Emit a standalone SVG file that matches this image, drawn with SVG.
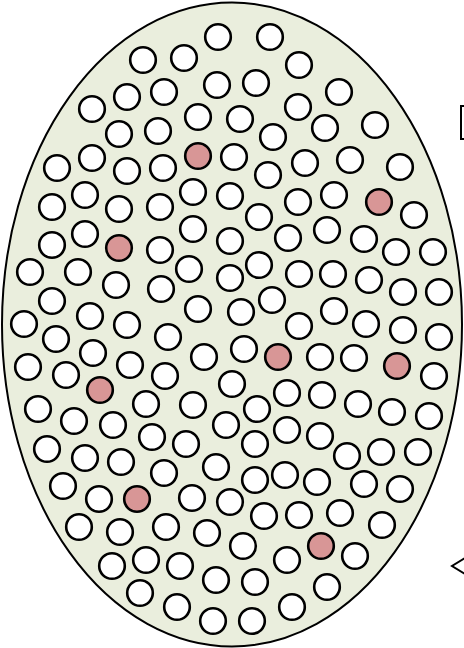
<svg xmlns="http://www.w3.org/2000/svg" width="464" height="648" viewBox="0 0 464 648">
<style>
.c{fill:#ffffff;stroke:#000;stroke-width:2.6}
.p{fill:#d89696;stroke:#000;stroke-width:2.6}
.shell{fill:#eaeedd;stroke:#000;stroke-width:2}
.edge{fill:#fff;stroke:#000;stroke-width:2}
</style>
<rect width="464" height="648" fill="#fff"/>
<g id="cell">
<ellipse class="shell" cx="232" cy="324.5" rx="230" ry="322"/>
</g>
<g id="particles">
<circle class="c" cx="218" cy="37" r="12.8"/>
<circle class="c" cx="270" cy="37" r="12.8"/>
<circle class="c" cx="143" cy="60" r="12.8"/>
<circle class="c" cx="184" cy="58" r="12.8"/>
<circle class="c" cx="299" cy="65" r="12.8"/>
<circle class="c" cx="127" cy="97" r="12.8"/>
<circle class="c" cx="164" cy="92" r="12.8"/>
<circle class="c" cx="217" cy="85" r="12.8"/>
<circle class="c" cx="256" cy="83" r="12.8"/>
<circle class="c" cx="339" cy="92" r="12.8"/>
<circle class="c" cx="92" cy="109" r="12.8"/>
<circle class="c" cx="198" cy="117" r="12.8"/>
<circle class="c" cx="240" cy="119" r="12.8"/>
<circle class="c" cx="298" cy="107" r="12.8"/>
<circle class="c" cx="375" cy="125" r="12.8"/>
<circle class="c" cx="325" cy="128" r="12.8"/>
<circle class="c" cx="119" cy="134" r="12.8"/>
<circle class="c" cx="158" cy="131" r="12.8"/>
<circle class="c" cx="273" cy="137" r="12.8"/>
<circle class="c" cx="57" cy="168" r="12.8"/>
<circle class="c" cx="92" cy="158" r="12.8"/>
<circle class="c" cx="127" cy="171" r="12.8"/>
<circle class="c" cx="163" cy="168" r="12.8"/>
<circle class="p" cx="198" cy="156" r="12.8"/>
<circle class="c" cx="234" cy="157" r="12.8"/>
<circle class="c" cx="268" cy="175" r="12.8"/>
<circle class="c" cx="305" cy="163" r="12.8"/>
<circle class="c" cx="350" cy="160" r="12.8"/>
<circle class="c" cx="400" cy="167" r="12.8"/>
<circle class="c" cx="52" cy="207" r="12.8"/>
<circle class="c" cx="85" cy="195" r="12.8"/>
<circle class="c" cx="119" cy="209" r="12.8"/>
<circle class="c" cx="160" cy="207" r="12.8"/>
<circle class="c" cx="193" cy="192" r="12.8"/>
<circle class="c" cx="230" cy="196" r="12.8"/>
<circle class="c" cx="298" cy="202" r="12.8"/>
<circle class="c" cx="334" cy="195" r="12.8"/>
<circle class="p" cx="379" cy="202" r="12.8"/>
<circle class="c" cx="414" cy="215" r="12.8"/>
<circle class="c" cx="259" cy="217" r="12.8"/>
<circle class="c" cx="52" cy="245" r="12.8"/>
<circle class="c" cx="85" cy="234" r="12.8"/>
<circle class="p" cx="119" cy="248" r="12.8"/>
<circle class="c" cx="160" cy="250" r="12.8"/>
<circle class="c" cx="193" cy="229" r="12.8"/>
<circle class="c" cx="230" cy="241" r="12.8"/>
<circle class="c" cx="288" cy="238" r="12.8"/>
<circle class="c" cx="327" cy="230" r="12.8"/>
<circle class="c" cx="364" cy="239" r="12.8"/>
<circle class="c" cx="396" cy="252" r="12.8"/>
<circle class="c" cx="433" cy="252" r="12.8"/>
<circle class="c" cx="259" cy="265" r="12.8"/>
<circle class="c" cx="30" cy="272" r="12.8"/>
<circle class="c" cx="78" cy="272" r="12.8"/>
<circle class="c" cx="116" cy="285" r="12.8"/>
<circle class="c" cx="161" cy="289" r="12.8"/>
<circle class="c" cx="189" cy="269" r="12.8"/>
<circle class="c" cx="230" cy="278" r="12.8"/>
<circle class="c" cx="299" cy="274" r="12.8"/>
<circle class="c" cx="333" cy="274" r="12.8"/>
<circle class="c" cx="369" cy="280" r="12.8"/>
<circle class="c" cx="403" cy="292" r="12.8"/>
<circle class="c" cx="439" cy="292" r="12.8"/>
<circle class="c" cx="52" cy="301" r="12.8"/>
<circle class="c" cx="90" cy="316" r="12.8"/>
<circle class="c" cx="127" cy="325" r="12.8"/>
<circle class="c" cx="24" cy="324" r="12.8"/>
<circle class="c" cx="198" cy="309" r="12.8"/>
<circle class="c" cx="272" cy="300" r="12.8"/>
<circle class="c" cx="241" cy="312" r="12.8"/>
<circle class="c" cx="334" cy="311" r="12.8"/>
<circle class="c" cx="299" cy="326" r="12.8"/>
<circle class="c" cx="366" cy="324" r="12.8"/>
<circle class="c" cx="403" cy="330" r="12.8"/>
<circle class="c" cx="439" cy="337" r="12.8"/>
<circle class="c" cx="56" cy="339" r="12.8"/>
<circle class="c" cx="168" cy="337" r="12.8"/>
<circle class="c" cx="93" cy="353" r="12.8"/>
<circle class="c" cx="204" cy="357" r="12.8"/>
<circle class="c" cx="244" cy="349" r="12.8"/>
<circle class="p" cx="278" cy="357" r="12.8"/>
<circle class="c" cx="320" cy="357" r="12.8"/>
<circle class="c" cx="354" cy="358" r="12.8"/>
<circle class="p" cx="397" cy="366" r="12.8"/>
<circle class="c" cx="434" cy="376" r="12.8"/>
<circle class="c" cx="28" cy="367" r="12.8"/>
<circle class="c" cx="66" cy="375" r="12.8"/>
<circle class="c" cx="130" cy="365" r="12.8"/>
<circle class="p" cx="100" cy="390" r="12.8"/>
<circle class="c" cx="165" cy="376" r="12.8"/>
<circle class="c" cx="232" cy="384" r="12.8"/>
<circle class="c" cx="287" cy="393" r="12.8"/>
<circle class="c" cx="322" cy="395" r="12.8"/>
<circle class="c" cx="358" cy="404" r="12.8"/>
<circle class="c" cx="392" cy="412" r="12.8"/>
<circle class="c" cx="429" cy="416" r="12.8"/>
<circle class="c" cx="257" cy="409" r="12.8"/>
<circle class="c" cx="38" cy="409" r="12.8"/>
<circle class="c" cx="74" cy="421" r="12.8"/>
<circle class="c" cx="113" cy="425" r="12.8"/>
<circle class="c" cx="146" cy="404" r="12.8"/>
<circle class="c" cx="193" cy="405" r="12.8"/>
<circle class="c" cx="226" cy="425" r="12.8"/>
<circle class="c" cx="287" cy="430" r="12.8"/>
<circle class="c" cx="320" cy="436" r="12.8"/>
<circle class="c" cx="47" cy="449" r="12.8"/>
<circle class="c" cx="85" cy="458" r="12.8"/>
<circle class="c" cx="121" cy="462" r="12.8"/>
<circle class="c" cx="152" cy="437" r="12.8"/>
<circle class="c" cx="186" cy="444" r="12.8"/>
<circle class="c" cx="216" cy="467" r="12.8"/>
<circle class="c" cx="255" cy="444" r="12.8"/>
<circle class="c" cx="347" cy="456" r="12.8"/>
<circle class="c" cx="381" cy="452" r="12.8"/>
<circle class="c" cx="418" cy="452" r="12.8"/>
<circle class="c" cx="63" cy="486" r="12.8"/>
<circle class="c" cx="164" cy="473" r="12.8"/>
<circle class="c" cx="255" cy="480" r="12.8"/>
<circle class="c" cx="285" cy="475" r="12.8"/>
<circle class="c" cx="317" cy="482" r="12.8"/>
<circle class="c" cx="364" cy="484" r="12.8"/>
<circle class="c" cx="400" cy="489" r="12.8"/>
<circle class="c" cx="99" cy="499" r="12.8"/>
<circle class="p" cx="137" cy="499" r="12.8"/>
<circle class="c" cx="192" cy="498" r="12.8"/>
<circle class="c" cx="230" cy="502" r="12.8"/>
<circle class="c" cx="79" cy="527" r="12.8"/>
<circle class="c" cx="120" cy="532" r="12.8"/>
<circle class="c" cx="166" cy="527" r="12.8"/>
<circle class="c" cx="207" cy="533" r="12.8"/>
<circle class="c" cx="264" cy="516" r="12.8"/>
<circle class="c" cx="299" cy="515" r="12.8"/>
<circle class="c" cx="340" cy="513" r="12.8"/>
<circle class="c" cx="382" cy="525" r="12.8"/>
<circle class="c" cx="112" cy="566" r="12.8"/>
<circle class="c" cx="146" cy="560" r="12.8"/>
<circle class="c" cx="180" cy="566" r="12.8"/>
<circle class="c" cx="216" cy="580" r="12.8"/>
<circle class="c" cx="243" cy="546" r="12.8"/>
<circle class="c" cx="287" cy="560" r="12.8"/>
<circle class="p" cx="321" cy="546" r="12.8"/>
<circle class="c" cx="355" cy="556" r="12.8"/>
<circle class="c" cx="140" cy="593" r="12.8"/>
<circle class="c" cx="177" cy="607" r="12.8"/>
<circle class="c" cx="213" cy="621" r="12.8"/>
<circle class="c" cx="255" cy="582" r="12.8"/>
<circle class="c" cx="327" cy="587" r="12.8"/>
<circle class="c" cx="292" cy="607" r="12.8"/>
<circle class="c" cx="252" cy="621" r="12.8"/>
</g>
<g id="side-box">
<rect class="edge" x="461" y="106" width="20" height="33"/>
</g>
<g id="connectors">
<polyline points="465,558 452,566 465,574" fill="none" stroke="#000" stroke-width="2"/>
</g>
</svg>
